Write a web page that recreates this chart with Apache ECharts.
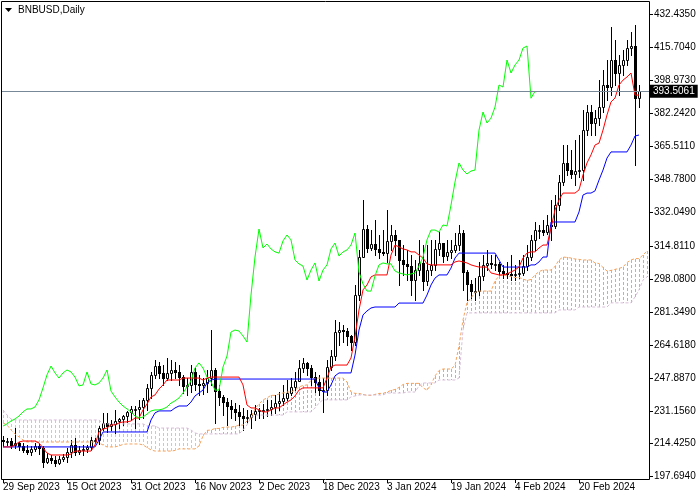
<!DOCTYPE html>
<html>
<head>
<meta charset="utf-8">
<script src="https://cdn.jsdelivr.net/npm/echarts@6/dist/echarts.min.js"></script>
<style>
html, body { margin: 0; padding: 0; background: #fff; }
#chart { width: 700px; height: 500px; }
</style>
</head>
<body>
<div id="chart"></div>
<script>
// BNBUSD daily bars, 29 Sep 2023 .. 6 Mar 2024, with Ichimoku (9/26/52)
const startDate = Date.UTC(2023, 8, 29);
const futureBars = 2; // the cloud runs on past the last bar

const closes = [
  215.8, 215.8, 213.8, 214.8, 213.3, 211.3, 210.2, 211.8, 213.3, 212.3,
  205.2, 207.2, 206.2, 204.7, 206.7, 207.7, 210.2, 213.8, 210.2, 211.3,
  211.8, 212.8, 216.3, 216.3, 222.4, 225.0, 223.4, 224.5, 226.0, 227.0,
  228.5, 230.6, 232.1, 232.1, 233.1, 236.7, 242.8, 249.4, 253.9, 250.4,
  247.8, 250.4, 251.9, 250.9, 248.3, 243.8, 244.3, 250.9, 244.8, 244.3,
  245.3, 247.8, 251.9, 241.2, 238.2, 235.6, 233.6, 232.1, 230.6, 228.5,
  227.5, 228.0, 229.5, 231.1, 231.6, 231.6, 232.1, 233.1, 235.1, 236.2,
  237.7, 240.2, 243.3, 246.3, 252.9, 255.5, 252.9, 248.3, 245.8, 241.7,
  241.7, 253.4, 259.0, 271.2, 272.2, 271.7, 269.2, 266.1, 290.0, 309.3,
  323.5, 313.9, 315.9, 313.4, 311.9, 311.3, 317.5, 320.5, 318.0, 307.8,
  305.8, 304.7, 297.6, 302.7, 306.3, 297.1, 302.7, 305.3, 313.4, 316.4,
  309.8, 311.9, 312.9, 315.4, 321.5, 301.7, 295.6, 292.0, 292.0, 299.7,
  305.3, 306.3, 305.8, 305.8, 302.2, 301.2, 300.7, 300.2, 300.7, 301.2,
  304.7, 309.3, 318.0, 323.0, 323.0, 322.0, 325.6, 325.1, 335.7, 347.4,
  357.1, 353.5, 351.5, 353.0, 353.5, 373.8, 383.0, 377.4, 379.9, 385.5,
  396.7, 395.7, 409.4, 402.8, 406.9, 409.4, 415.5, 416.5, 390.0, 393.5
];

const opens = [
  216.3, 215.8, 215.8, 213.8, 214.8, 213.3, 211.3, 210.2, 211.8, 213.3,
  212.3, 205.2, 207.2, 206.2, 204.7, 206.7, 207.7, 210.2, 213.8, 210.2,
  211.3, 211.8, 212.8, 216.3, 216.3, 222.4, 225.0, 223.4, 224.5, 226.0,
  227.0, 228.5, 230.6, 232.1, 232.1, 233.1, 236.7, 242.8, 249.4, 253.9,
  250.4, 247.8, 250.4, 251.9, 250.9, 248.3, 243.8, 244.3, 250.9, 244.8,
  244.3, 245.3, 247.8, 251.9, 241.2, 238.2, 235.6, 233.6, 232.1, 230.6,
  228.5, 227.5, 228.0, 229.5, 231.1, 231.6, 231.6, 232.1, 233.1, 235.1,
  236.2, 237.7, 240.2, 243.3, 246.3, 252.9, 255.5, 252.9, 248.3, 245.8,
  241.7, 241.7, 253.4, 259.0, 271.2, 272.2, 271.7, 269.2, 266.1, 290.0,
  309.3, 323.5, 313.9, 315.9, 313.4, 311.9, 311.3, 317.5, 320.5, 318.0,
  307.8, 305.8, 304.7, 297.6, 302.7, 306.3, 297.1, 302.7, 305.3, 313.4,
  316.4, 309.8, 311.9, 312.9, 315.4, 321.5, 301.7, 295.6, 292.0, 292.0,
  299.7, 305.3, 306.3, 305.8, 305.8, 302.2, 301.2, 300.7, 300.2, 300.7,
  301.2, 304.7, 309.3, 318.0, 323.0, 323.0, 322.0, 325.6, 325.1, 335.7,
  347.4, 357.1, 353.5, 351.5, 353.0, 353.5, 373.8, 383.0, 377.4, 379.9,
  385.5, 396.7, 395.7, 409.4, 402.8, 406.9, 409.4, 415.5, 416.5, 390.0
];

const highs = [
  218.4, 217.4, 217.4, 222.4, 215.3, 214.8, 213.8, 213.3, 214.8, 214.3,
  213.3, 209.7, 208.7, 208.2, 208.2, 209.2, 212.3, 216.3, 217.4, 213.3,
  213.8, 213.8, 217.9, 217.4, 223.5, 230.1, 230.1, 226.5, 231.6, 227.5,
  229.0, 231.1, 233.6, 233.6, 236.7, 237.7, 245.0, 250.9, 257.0, 256.0,
  254.4, 258.0, 257.0, 256.0, 254.4, 249.4, 247.8, 254.4, 252.9, 249.4,
  247.8, 251.9, 272.2, 252.9, 244.3, 239.2, 237.7, 236.7, 235.1, 234.1,
  232.6, 231.6, 231.6, 234.1, 232.6, 234.6, 236.7, 236.7, 239.2, 240.7,
  244.3, 246.8, 247.8, 250.9, 257.0, 258.0, 256.0, 254.4, 250.9, 249.4,
  247.8, 257.0, 262.0, 277.3, 276.3, 274.8, 273.2, 269.7, 295.1, 312.9,
  338.3, 325.6, 323.0, 328.1, 320.5, 323.0, 333.2, 325.6, 323.0, 318.0,
  315.4, 312.9, 310.3, 307.8, 318.0, 315.4, 315.4, 318.0, 318.0, 322.0,
  315.4, 318.0, 318.0, 321.5, 325.6, 323.0, 302.7, 297.6, 298.6, 306.8,
  310.3, 312.9, 310.3, 310.3, 306.8, 305.3, 306.8, 310.3, 305.3, 307.8,
  310.3, 315.4, 320.5, 327.1, 325.6, 328.1, 330.7, 338.3, 340.8, 351.0,
  366.2, 366.2, 363.7, 368.8, 371.3, 384.0, 386.5, 386.5, 384.0, 399.2,
  404.3, 409.4, 426.2, 419.6, 412.0, 414.5, 419.6, 423.6, 427.2, 396.7
];

const lows = [
  213.3, 213.8, 212.3, 212.3, 211.3, 210.2, 209.2, 208.7, 210.7, 209.2,
  202.6, 204.7, 204.7, 203.1, 204.2, 205.7, 205.2, 207.7, 208.7, 209.2,
  208.7, 210.2, 211.3, 214.8, 214.3, 221.4, 220.4, 221.4, 219.9, 222.4,
  224.0, 225.5, 226.5, 222.4, 227.0, 227.5, 231.6, 237.7, 247.8, 247.8,
  244.3, 246.8, 246.8, 247.8, 244.3, 240.2, 239.2, 240.7, 241.7, 239.2,
  239.7, 240.7, 244.3, 225.0, 234.1, 229.0, 224.0, 227.5, 226.5, 224.0,
  221.4, 225.5, 222.4, 226.5, 227.5, 227.5, 228.5, 229.0, 230.0, 231.6,
  234.1, 236.7, 239.2, 241.7, 246.8, 250.9, 249.4, 244.3, 240.7, 239.2,
  230.6, 239.2, 251.9, 257.0, 264.6, 266.1, 264.6, 262.0, 264.6, 287.5,
  310.3, 312.0, 312.9, 310.3, 308.8, 310.3, 306.8, 312.9, 310.3, 295.1,
  300.2, 297.6, 290.0, 287.5, 300.2, 292.6, 295.1, 300.2, 302.7, 310.3,
  306.8, 307.8, 308.8, 311.9, 312.9, 292.6, 287.5, 288.5, 287.5, 290.0,
  297.6, 302.7, 303.7, 302.7, 300.2, 298.6, 298.6, 297.6, 297.6, 298.6,
  300.2, 302.7, 307.8, 312.9, 319.0, 320.5, 321.0, 318.0, 324.0, 333.2,
  345.9, 351.0, 349.5, 345.9, 350.0, 348.4, 371.3, 371.3, 371.3, 376.4,
  383.0, 389.1, 391.6, 396.7, 391.6, 401.8, 406.9, 412.0, 356.0, 385.5
];

const tenkan = [
  212.8, 212.8, 212.8, 213.8, 215.3, 215.8, 215.8, 215.8, 215.8, 214.8,
  212.3, 209.7, 208.7, 208.7, 208.7, 208.7, 208.7, 209.2, 210.7, 210.7,
  210.7, 210.7, 210.7, 213.8, 220.4, 221.9, 222.4, 224.0, 224.0, 225.0,
  225.5, 225.5, 226.0, 227.5, 227.5, 231.6, 234.6, 238.2, 239.2, 242.2,
  244.3, 246.8, 246.8, 246.8, 246.8, 247.8, 247.8, 247.8, 247.8, 247.8,
  246.8, 247.8, 248.3, 248.3, 248.3, 248.3, 248.3, 248.3, 248.3, 248.3,
  244.3, 234.1, 232.6, 232.6, 231.6, 230.6, 230.6, 231.6, 232.6, 232.6,
  234.1, 235.6, 236.7, 238.7, 241.7, 242.8, 242.8, 242.8, 242.8, 242.8,
  242.8, 247.8, 253.4, 254.4, 254.4, 254.4, 254.4, 258.0, 268.7, 282.4,
  292.6, 295.1, 299.2, 300.2, 300.2, 300.2, 300.2, 310.3, 315.4, 314.4,
  313.4, 312.9, 311.9, 311.9, 310.3, 308.8, 305.8, 305.3, 305.3, 305.3,
  305.3, 305.3, 305.3, 306.8, 307.3, 306.8, 306.3, 305.3, 304.7, 304.2,
  304.2, 304.2, 301.2, 300.7, 300.2, 300.2, 300.7, 301.7, 302.7, 304.2,
  308.8, 311.3, 311.9, 311.9, 313.9, 315.4, 315.4, 324.0, 333.2, 338.3,
  341.8, 341.8, 341.8, 341.8, 343.4, 351.0, 357.1, 361.2, 366.2, 367.2,
  373.8, 381.5, 388.1, 390.1, 396.7, 399.2, 400.8, 402.8, 391.6, 391.6
];

const kijun = [
  212.8, 212.8, 212.8, 212.8, 212.8, 212.8, 212.8, 212.8, 212.8, 212.8,
  212.8, 212.8, 212.8, 212.8, 212.8, 212.8, 212.8, 212.8, 212.8, 212.8,
  212.8, 212.8, 212.8, 212.8, 216.3, 220.4, 220.4, 220.4, 220.4, 220.4,
  220.4, 220.4, 220.4, 220.4, 220.4, 220.4, 220.4, 226.5, 230.1, 231.1,
  231.1, 231.1, 231.1, 232.6, 233.6, 233.6, 233.6, 235.6, 238.7, 240.2,
  241.7, 245.3, 246.8, 247.3, 247.3, 247.3, 247.3, 247.3, 247.3, 247.3,
  247.3, 247.3, 247.3, 247.3, 247.3, 247.3, 247.3, 247.3, 247.3, 247.3,
  247.3, 247.3, 247.3, 247.3, 247.3, 247.3, 247.3, 247.3, 247.3, 242.8,
  240.7, 240.7, 244.3, 248.9, 250.4, 250.4, 250.4, 250.4, 259.5, 272.2,
  279.9, 281.9, 283.4, 283.9, 283.9, 283.9, 283.9, 283.9, 283.9, 285.9,
  285.9, 285.9, 285.9, 285.9, 285.9, 285.9, 290.0, 295.1, 298.6, 300.2,
  300.2, 300.2, 303.7, 308.8, 311.3, 311.3, 311.3, 311.3, 311.3, 311.3,
  311.3, 311.3, 311.3, 311.3, 307.8, 304.2, 304.2, 304.2, 304.2, 304.2,
  304.2, 304.2, 305.3, 305.3, 306.8, 309.3, 309.3, 327.1, 327.1, 327.1,
  327.1, 327.1, 327.1, 327.1, 332.2, 340.8, 341.8, 341.8, 342.9, 348.4,
  353.5, 359.6, 362.7, 362.7, 362.7, 362.7, 362.7, 366.2, 370.8, 371.3
];

// leading spans, already shifted 26 bars forward (162 values)
const spanA = [
  225.0, 224.0, 221.4, 219.4, 217.9, 216.3, 215.3, 215.3, 215.3, 215.3,
  215.3, 215.3, 215.3, 215.3, 215.3, 215.3, 215.3, 215.3, 215.3, 215.3,
  215.3, 215.3, 215.3, 215.3, 214.8, 213.8, 212.8, 212.8, 212.8, 213.3,
  214.1, 214.3, 214.3, 214.3, 214.3, 213.8, 212.5, 211.3, 210.7, 210.7,
  210.7, 210.7, 210.7, 211.0, 211.8, 211.8, 211.8, 211.8, 211.8, 213.3,
  218.4, 221.2, 221.4, 222.2, 222.2, 222.7, 222.9, 222.9, 223.2, 223.9,
  223.9, 226.0, 227.5, 232.3, 234.6, 236.7, 237.7, 239.0, 239.0, 239.7,
  240.2, 240.7, 240.7, 241.7, 243.3, 244.0, 244.3, 246.6, 247.6, 247.8,
  247.8, 247.8, 247.8, 247.8, 247.8, 247.8, 245.8, 240.7, 240.0, 240.0,
  239.5, 239.0, 239.0, 239.5, 240.0, 240.0, 240.7, 241.5, 242.0, 243.0,
  244.5, 245.1, 245.1, 245.1, 245.1, 242.8, 241.7, 244.3, 248.9, 251.6,
  252.4, 252.4, 252.4, 254.2, 264.1, 277.3, 286.2, 288.5, 291.3, 292.0,
  292.0, 292.0, 292.0, 297.1, 299.7, 300.2, 299.7, 299.4, 298.9, 298.9,
  298.1, 297.4, 297.9, 300.2, 301.9, 302.7, 302.7, 302.7, 304.5, 307.8,
  309.3, 309.1, 308.8, 308.3, 308.1, 307.8, 307.8, 307.8, 306.3, 306.0,
  304.0, 302.2, 302.5, 303.0, 303.5, 304.2, 306.5, 307.8, 308.5, 308.5,
  310.3, 312.4
];

const spanB = [
  231.6, 229.0, 227.0, 226.5, 226.5, 226.5, 226.5, 226.5, 226.5, 226.5,
  226.5, 226.5, 226.5, 226.5, 226.5, 226.5, 226.5, 226.5, 226.5, 226.5,
  226.5, 226.5, 226.5, 226.5, 226.5, 224.5, 224.5, 224.5, 224.5, 224.5,
  224.5, 224.5, 224.5, 224.5, 224.5, 224.5, 223.5, 223.5, 223.5, 222.4,
  222.4, 222.4, 222.4, 222.4, 222.4, 222.4, 222.4, 221.4, 219.9, 219.4,
  219.4, 219.4, 219.4, 219.4, 219.4, 219.4, 219.4, 219.4, 219.4, 219.4,
  221.4, 224.0, 227.5, 229.0, 229.0, 229.0, 229.0, 229.0, 229.0, 229.0,
  229.0, 230.6, 230.6, 230.6, 230.6, 230.6, 230.6, 230.6, 232.6, 235.1,
  236.7, 236.7, 236.7, 236.7, 236.7, 236.7, 236.7, 238.2, 238.7, 239.2,
  239.2, 239.2, 239.2, 239.2, 239.2, 239.2, 240.2, 240.2, 240.2, 240.2,
  240.2, 240.7, 240.7, 240.7, 243.8, 245.3, 245.3, 245.3, 245.3, 246.8,
  246.8, 246.8, 246.8, 246.8, 247.8, 272.2, 280.9, 280.9, 280.9, 280.9,
  280.9, 280.9, 280.9, 280.9, 280.9, 280.9, 280.9, 280.9, 280.9, 280.9,
  280.9, 280.9, 280.9, 280.9, 280.9, 280.9, 280.9, 280.9, 280.9, 282.4,
  282.4, 282.4, 282.4, 282.4, 283.9, 283.9, 283.9, 283.9, 283.9, 283.9,
  283.9, 283.9, 286.0, 286.0, 286.0, 286.0, 286.0, 286.0, 289.0, 292.6,
  297.6, 299.2
];

const tickIdx = [0, 16, 32, 48, 64, 80, 96, 112, 128, 144];
const tickLabels = ['29 Sep 2023', '15 Oct 2023', '31 Oct 2023', '16 Nov 2023', '2 Dec 2023',
  '18 Dec 2023', '3 Jan 2024', '19 Jan 2024', '4 Feb 2024', '20 Feb 2024'];
const priceTicks = [197.694, 214.425, 231.156, 247.887, 264.618, 281.349, 298.08, 314.811,
  332.049, 348.78, 365.511, 382.242, 398.973, 415.704, 432.435];
const lastPrice = 393.5061;

const FONT = '"Liberation Sans", Arial, sans-serif';
const SANDY = '#f4a460', THISTLE = '#d8bfd8';

const nBars = closes.length + futureBars;
const cats = [];
for (let i = 0; i < nBars; i++) {
  cats.push(new Date(startDate + i * 86400000).toISOString().slice(0, 10));
}

const candleData = closes.map((c, i) => [i, opens[i], c, lows[i], highs[i]]);
const cloudData = spanA.map((a, i) => [i, a, spanB[i]]);
// lagging span: each close drawn 26 bars back
const chikou = cats.map((_, j) => (j + 26 < closes.length ? closes[j + 26] : null));

const chart = echarts.init(document.getElementById('chart'));

// cloud: one dotted vertical stroke per bar between the two spans
function renderCloud(params, api) {
  const i = params.dataIndex;
  const a = spanA[i], b = spanB[i];
  const pa = api.coord([i, a]);
  const pb = api.coord([i, b]);
  const x = Math.round(pa[0]);
  const y0 = Math.round(Math.min(pa[1], pb[1]));
  const y1 = Math.round(Math.max(pa[1], pb[1]));
  const color = a >= b ? SANDY : THISTLE;
  const dashes = [];
  for (let y = y0; y < y1; y += 5) {
    dashes.push({
      type: 'rect',
      shape: { x: x, y: y, width: 1, height: Math.min(3, y1 - y) },
      style: { fill: color }
    });
  }
  return { type: 'group', children: dashes, silent: true };
}

function renderCandle(params, api) {
  const i = api.value(0);
  const o = api.value(1), c = api.value(2), l = api.value(3), h = api.value(4);
  const po = api.coord([i, o]);
  const cx = Math.round(po[0]);
  const yo = po[1];
  const yc = api.coord([i, c])[1];
  const yl = Math.round(api.coord([i, l])[1]);
  const yh = Math.round(api.coord([i, h])[1]);
  const top = Math.round(Math.min(yo, yc));
  const bot = Math.round(Math.max(yo, yc));
  const children = [{
    type: 'line',
    shape: { x1: cx + 0.5, y1: yh, x2: cx + 0.5, y2: yl + 1 },
    style: { stroke: '#000', lineWidth: 1 }
  }];
  if (c >= o) {
    children.push({
      type: 'rect',
      shape: { x: cx - 0.5, y: top + 0.5, width: 2, height: Math.max(bot - top, 1) },
      style: { fill: '#fff', stroke: '#000', lineWidth: 1 }
    });
  } else {
    children.push({
      type: 'rect',
      shape: { x: cx - 1, y: top, width: 3, height: Math.max(bot - top + 1, 2) },
      style: { fill: '#000' }
    });
  }
  return { type: 'group', children: children, silent: true };
}

const option = {
  animation: false,
  backgroundColor: '#fff',
  grid: { left: 1, right: 51, top: 1, bottom: 21, show: false, containLabel: false, outerBoundsMode: 'none' },
  xAxis: {
    type: 'category',
    data: cats,
    boundaryGap: true,
    axisLine: { show: false },
    axisTick: {
      show: true,
      alignWithLabel: true,
      length: 4,
      interval: (idx) => tickIdx.indexOf(idx) >= 0,
      lineStyle: { color: '#000' }
    },
    axisLabel: {
      interval: (idx) => tickIdx.indexOf(idx) >= 0,
      formatter: (val, idx) => tickLabels[tickIdx.indexOf(idx)] || '',
      align: 'left',
      margin: 3,
      color: '#000',
      fontSize: 10,
      fontFamily: FONT
    },
    splitLine: { show: false }
  },
  yAxis: {
    type: 'value',
    position: 'right',
    min: 196.5,
    max: 439.4,
    axisLine: { show: false },
    splitLine: { show: false },
    axisTick: { show: true, length: 4, customValues: priceTicks, lineStyle: { color: '#000' } },
    axisLabel: {
      customValues: priceTicks,
      formatter: (v) => v.toFixed(4),
      margin: 5,
      color: '#000',
      fontSize: 10,
      fontFamily: FONT
    }
  },
  graphic: [
    { type: 'rect', shape: { x: 1.5, y: 1.5, width: 648, height: 478 },
      style: { fill: null, stroke: '#000', lineWidth: 1 }, z: 100, silent: true },
    { type: 'polygon', shape: { points: [[5, 8], [12, 8], [8.5, 12]] },
      style: { fill: '#000' }, z: 100, silent: true },
    { type: 'text', x: 18, y: 5, z: 100, silent: true,
      style: { text: 'BNBUSD,Daily', font: '10px ' + FONT, fill: '#000' } }
  ],
  series: [
    {
      name: 'cloud', type: 'custom', data: cloudData, renderItem: renderCloud,
      encode: { x: 0, y: [1, 2] }, clip: true, silent: true
    },
    {
      name: 'Senkou A', type: 'line', data: spanA, symbol: 'none', silent: true,
      lineStyle: { color: SANDY, width: 1, type: [3, 2] }
    },
    {
      name: 'Senkou B', type: 'line', data: spanB, symbol: 'none', silent: true,
      lineStyle: { color: THISTLE, width: 1, type: [3, 2] }
    },
    {
      name: 'price', type: 'custom', data: candleData, renderItem: renderCandle,
      encode: { x: 0, y: [1, 2, 3, 4] }, clip: true, silent: true
    },
    {
      name: 'Kijun', type: 'line', data: kijun, symbol: 'none', silent: true,
      lineStyle: { color: '#0000ff', width: 1 }
    },
    {
      name: 'Tenkan', type: 'line', data: tenkan, symbol: 'none', silent: true,
      lineStyle: { color: '#ff0000', width: 1 },
      markLine: {
        silent: true,
        symbol: ['none', 'none'],
        data: [{ yAxis: lastPrice }],
        lineStyle: { color: '#778899', width: 1, type: 'solid' },
        label: {
          show: true,
          position: 'end',
          distance: 1,
          formatter: lastPrice.toFixed(4),
          backgroundColor: '#000',
          color: '#fff',
          padding: [2, 3, 1, 3],
          fontSize: 10,
          fontFamily: FONT
        }
      }
    },
    {
      name: 'Chikou', type: 'line', data: chikou, symbol: 'none', silent: true,
      lineStyle: { color: '#00ff00', width: 1 }
    }
  ]
};

chart.setOption(option);
</script>
</body>
</html>
